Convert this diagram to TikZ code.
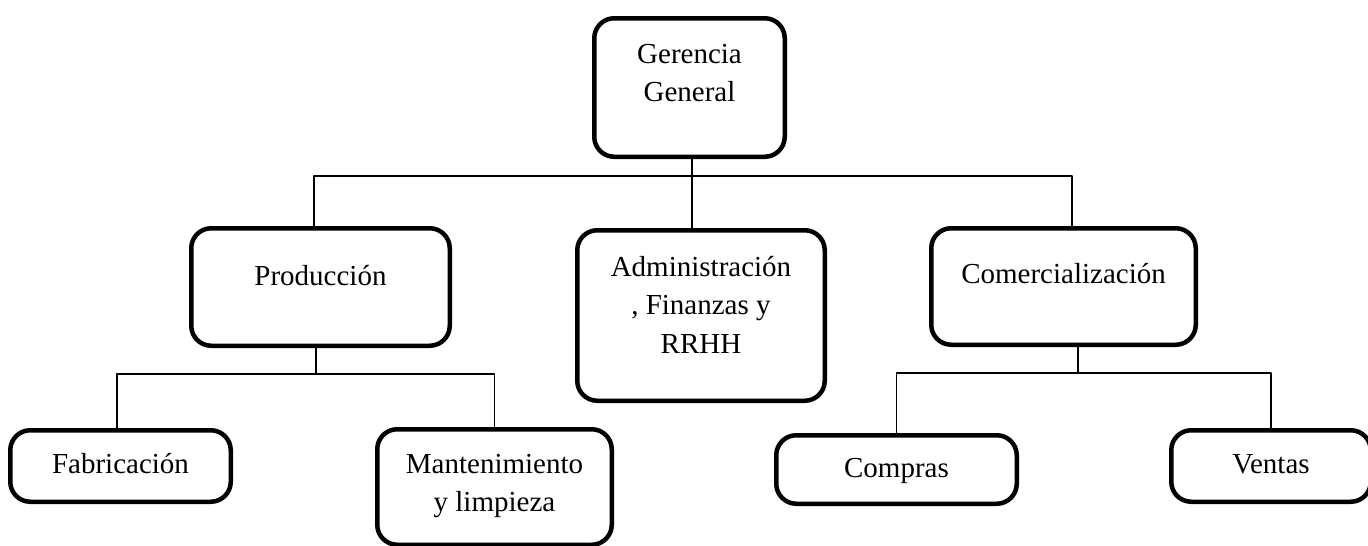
\documentclass[tikz,border=0pt]{standalone}
\usepackage{fontspec}
\setmainfont{Liberation Serif}
\usetikzlibrary{calc,positioning}
\definecolor{orgInk}{HTML}{000000}
\definecolor{orgPaper}{HTML}{FFFFFF}

\begin{document}
\begin{tikzpicture}[x=1pt,y=-1pt,line cap=round,line join=round]
\path[fill=orgPaper,use as bounding box] (0,0) rectangle (1368,546);
\tikzset{unit/.style={draw=orgInk,fill=white,line width=4.5pt,rounded corners=20pt,inner sep=0pt,align=center,text=orgInk,font={\fontsize{29}{38.5}\selectfont},text height=20pt},link/.style={draw=orgInk,line width=1.5pt}}
\node[unit,minimum width=190.5,minimum height=138.5,text height=58.5pt,text depth=30.5pt] (ger) at (689.5,87.5) {Gerencia\\General};
\node[unit,minimum width=258.5,minimum height=117.5,text depth=24pt] (prod) at (320.5,287) {Producción};
\node[unit,minimum width=247.5,minimum height=170.5,text height=97pt,text depth=22pt] (adm) at (701,315.5) {Administración\\, Finanzas y\\RRHH};
\node[unit,minimum width=264.5,minimum height=116.5,text depth=27pt] (com) at (1063.5,286.5) {Comercialización};
\node[unit,minimum width=220.5,minimum height=71.5,text depth=6pt] (fab) at (120.5,466) {Fabricación};
\node[unit,minimum width=234.5,minimum height=115.5,text height=58.5pt,text depth=9.5pt] (man) at (494.5,487) {Mantenimiento\\y limpieza};
\node[unit,minimum width=240.5,minimum height=68.5,text depth=5pt] (comp) at (896.5,469.5) {Compras};
\node[unit,minimum width=199.5,minimum height=71.5,text depth=6pt] (ven) at (1271,466) {Ventas};
\coordinate (topBus) at (692,176); \coordinate (prodBus) at (316,374); \coordinate (comBus) at (1078,373);
\draw[link] (ger.south -| topBus) -- (topBus); \draw[link] (topBus) -- (topBus |- adm.north);
\draw[link] ([xshift=-6.5]prod.north) |- (topBus) -| ([xshift=8.5]com.north);
\draw[link] (prod.south -| prodBus) -- (prodBus); \draw[link] ([xshift=-3.5]fab.north) |- (prodBus) -| (man.north);
\draw[link] (com.south -| comBus) -- (comBus); \draw[link] (comp.north) |- (comBus) -| (ven.north);
\end{tikzpicture}
\end{document}
